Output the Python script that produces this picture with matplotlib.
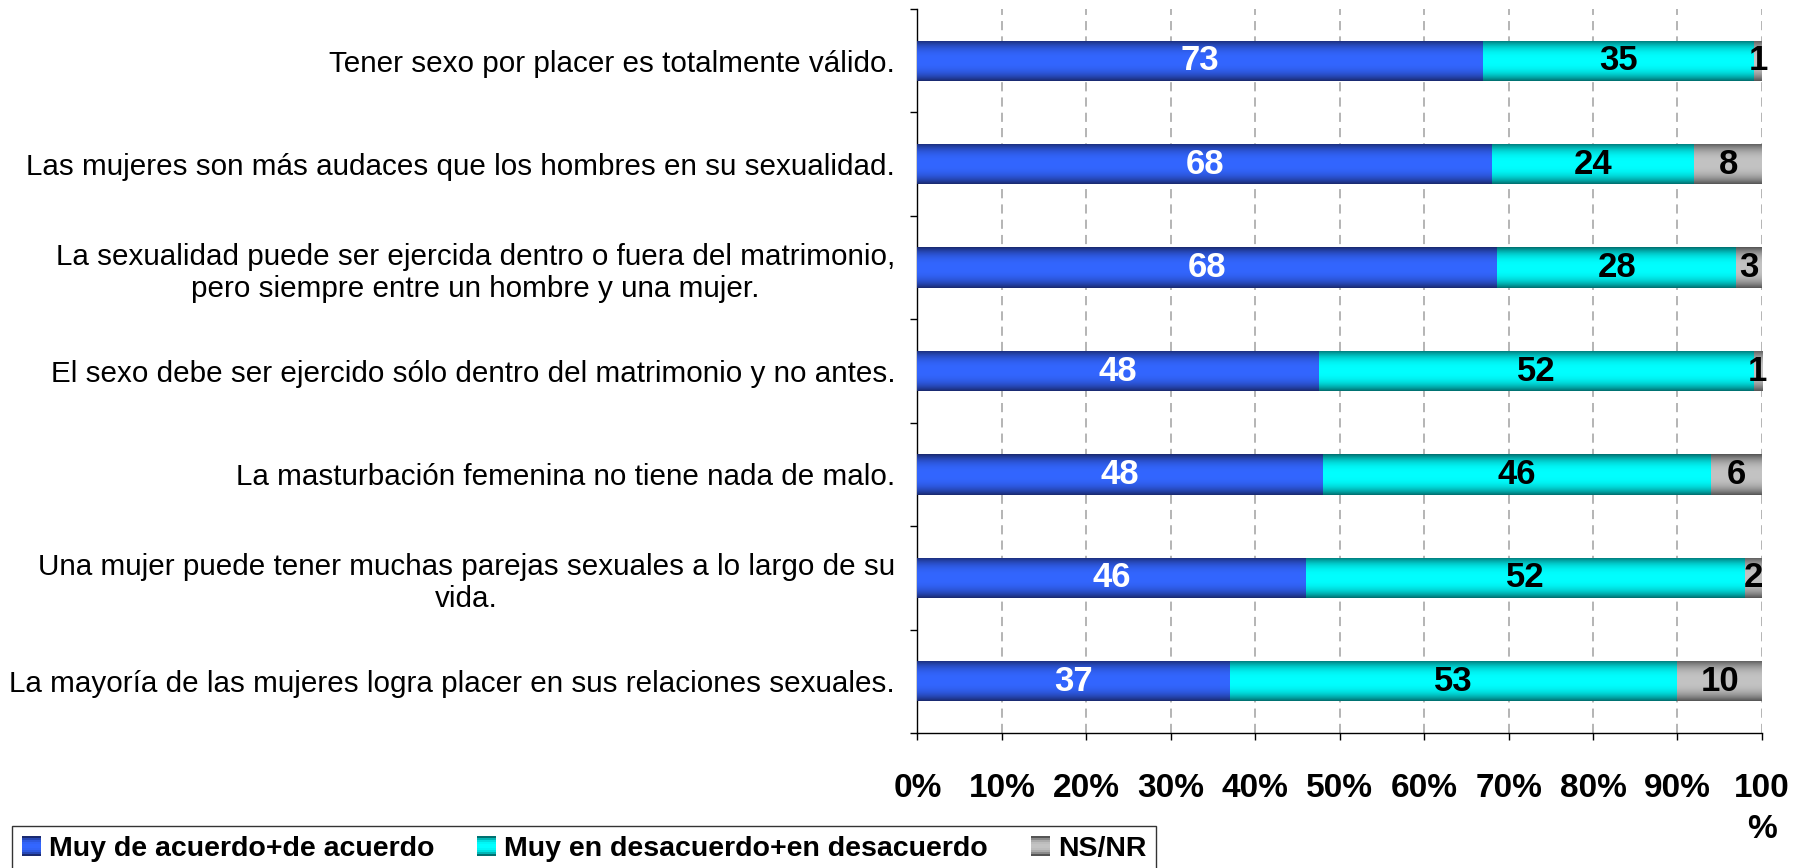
import numpy as np
import matplotlib
matplotlib.use("Agg")
import matplotlib.pyplot as plt
from matplotlib.patches import Rectangle
from matplotlib.legend_handler import HandlerBase

plt.rcParams["font.family"] = ["Liberation Sans", "DejaVu Sans"]

categories = [
    "Tener sexo por placer es totalmente válido.",
    "Las mujeres son más audaces que los hombres en su sexualidad.",
    "La sexualidad puede ser ejercida dentro o fuera del matrimonio,\npero siempre entre un hombre y una mujer.",
    "El sexo debe ser ejercido sólo dentro del matrimonio y no antes.",
    "La masturbación femenina no tiene nada de malo.",
    "Una mujer puede tener muchas parejas sexuales a lo largo de su\nvida.",
    "La mayoría de las mujeres logra placer en sus relaciones sexuales.",
]
agree = [73, 68, 68, 48, 48, 46, 37]
disagree = [35, 24, 28, 52, 46, 52, 53]
nsnr = [1, 8, 3, 1, 6, 2, 10]
series_names = ["Muy de acuerdo+de acuerdo", "Muy en desacuerdo+en desacuerdo", "NS/NR"]
tick_labels = ["0%", "10%", "20%", "30%", "40%", "50%", "60%", "70%", "80%", "90%", "100\n%"]

# (edge colour, centre colour) for the bar gradients
grads = [((26, 42, 112), (51, 102, 255)),
         ((0, 112, 112), (0, 255, 255)),
         ((85, 85, 85), (195, 195, 195))]
text_colors = ["white", "black", "black"]


def gradient(edge, centre, n=64):
    t = np.linspace(0, 1, n)
    f = 1 - np.abs(2 * t - 1) ** 2.6
    e = np.array(edge) / 255
    c = np.array(centre) / 255
    return (e + (c - e) * f[:, None])[:, None, :]


class GradHandler(HandlerBase):
    def __init__(self, edge, centre):
        super().__init__()
        self.cols = gradient(edge, centre, 10)[:, 0, :]

    def create_artists(self, legend, orig, xd, yd, w, h, fontsize, trans):
        arts = []
        n = len(self.cols)
        for i, c in enumerate(self.cols):
            r = Rectangle((xd, yd + h * (n - 1 - i) / n), w, h / n + 0.3,
                          facecolor=c, edgecolor="none", transform=trans)
            arts.append(r)
        return arts


data = np.array([agree, disagree, nsnr], dtype=float)
pct = data / data.sum(axis=0) * 100

fig = plt.figure(figsize=(18.06, 8.68), dpi=100)
ax = fig.add_axes([0.508, 0.1555, 0.9756 - 0.508, 0.9896 - 0.1555])

y = np.arange(len(categories))
left = np.zeros(len(categories))
for k in range(3):
    bars = ax.barh(y, pct[k], left=left, height=0.39, color="none", zorder=3)
    img = gradient(*grads[k])
    for i, rect in enumerate(bars):
        x0, y0 = rect.get_x(), rect.get_y()
        w, h = rect.get_width(), rect.get_height()
        im = ax.imshow(img, extent=[x0, x0 + w, y0 + h, y0], aspect="auto",
                       interpolation="bilinear", zorder=3)
        im.set_clip_path(rect)
        ax.text(x0 + w / 2, y[i], f"{int(data[k][i])}", ha="center", va="center",
                color=text_colors[k], fontsize=25, fontweight="bold", zorder=5)
    left += pct[k]

ax.set_xlim(0, 100)
ax.set_ylim(len(categories) - 0.5, -0.5)
ax.set_aspect("auto")

ax.set_xticks(np.arange(0, 101, 10))
ax.set_xticklabels(tick_labels, fontsize=24, fontweight="bold", linespacing=1.4)
ax.xaxis.grid(True, linestyle=(0, (6, 4)), color="#a0a0a0", linewidth=1.1, zorder=0)
ax.set_axisbelow(True)

ax.set_yticks(y)
ax.set_yticklabels(categories, fontsize=21.3, multialignment="center", linespacing=1.2)
ax.set_yticks(np.arange(-0.5, len(categories)), minor=True)
ax.tick_params(axis="y", which="major", length=0, pad=16)
ax.tick_params(axis="y", which="minor", length=5, width=1, direction="out")
ax.tick_params(axis="x", length=5, width=1, direction="out", pad=24)

for s in ["top", "right"]:
    ax.spines[s].set_visible(False)
ax.spines["left"].set_linewidth(1)
ax.spines["bottom"].set_linewidth(1)

handles = [Rectangle((0, 0), 1, 1) for _ in range(3)]
hmap = {handles[k]: GradHandler(*grads[k]) for k in range(3)}
leg = fig.legend(handles, series_names, loc="upper left",
                 bbox_to_anchor=(12 / 1806, 1 - 826 / 868), ncol=3,
                 prop={"weight": "bold", "size": 20.5}, handler_map=hmap,
                 handlelength=0.67, handleheight=0.67, handletextpad=0.28,
                 columnspacing=1.5, borderpad=0.35, borderaxespad=0,
                 frameon=True, fancybox=False)
leg.get_frame().set_edgecolor("black")
leg.get_frame().set_linewidth(1)

fig.savefig("out.png", dpi=100)
